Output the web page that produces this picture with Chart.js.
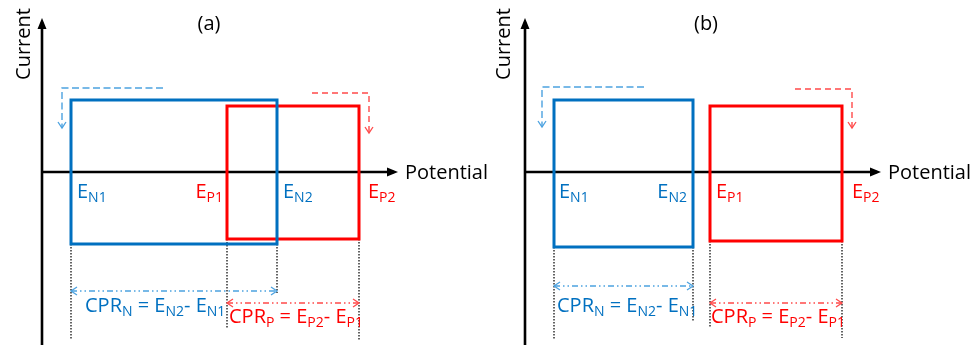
<!DOCTYPE html>
<html>
<head>
<meta charset="utf-8">
<script src="https://cdn.jsdelivr.net/npm/chart.js@4/dist/chart.umd.min.js"></script>
<style>
  html, body { margin: 0; padding: 0; background: #ffffff; }
  #wrap { position: relative; width: 979px; height: 348px; overflow: hidden; }
  #wrap canvas { position: absolute; top: 0; }
</style>
</head>
<body>
<div id="wrap">
  <canvas id="panelA" width="489" height="348" style="left:0px"></canvas>
  <canvas id="panelB" width="490" height="348" style="left:489px"></canvas>
</div>
<script>
// Two schematic voltammograms: (a) overlapping and (b) separated potential windows.
const panels = ['(a)', '(b)'];

// Electrode switching potentials (arbitrary potential units)
const E_N1 = [2.9, 2.9];
const E_N2 = [23.5, 16.8];
const E_P1 = [18.5, 18.5];
const E_P2 = [31.7, 31.7];

// Current plateaus of the negative (N) and positive (P) electrode boxes
const I_N_top = [7.2, 7.2];
const I_N_bot = [-7.2, -7.5];
const I_P_top = [6.6, 6.6];
const I_P_bot = [-6.7, -6.9];

// Sweep-direction markers
const sweepN_start = [12.1, 11.9];
const sweepN_corner = [2.0, 1.7];
const sweepN_level = [8.4, 8.5];
const sweepN_tip = [4.4, 4.5];
const sweepP_start = [27.0, 27.0];
const sweepP_corner = [32.7, 32.7];
const sweepP_level = [7.9, 8.3];
const sweepP_tip = [3.9, 4.4];

// Potential-range brackets and their dotted guides
const cprN_level = [-11.9, -11.4];
const cprP_level = [-13.1, -13.1];
const guideN1_end = [-16.8, -16.8];
const guideN2_end = [-12.1, -15.0];
const guideP1_end = [-15.6, -15.6];
const guideP2_end = [-16.8, -16.6];

// Axis extents
const potentialAxisEnd = 35.2;
const currentAxisTop = 15.0;
const currentAxisBottom = -17.3;

// Axis and formula labels
const axisTitleX = 'Potential';
const axisTitleY = 'Current';
const labelN1 = [['E', 0], ['N1', 1]];
const labelN2 = [['E', 0], ['N2', 1]];
const labelP1 = [['E', 0], ['P1', 1]];
const labelP2 = [['E', 0], ['P2', 1]];
const formulaN = [['CPR', 0], ['N', 1], [' = E', 0], ['N2', 1], ['- E', 0], ['N1', 1]];
const formulaP = [['CPR', 0], ['P', 1], [' = E', 0], ['P2', 1], ['- E', 0], ['P1', 1]];

const FONT = '"Open Sans", "DejaVu Sans", sans-serif';
const BLUE = '#0070C0';
const RED = '#FF0000';
const BLUE_LIGHT = '#4CA2E0';
const RED_LIGHT = '#FF4A4A';

// Per-panel text placement (pixels relative to the drawn axes / lines)
const layout = [
  { titleDx: 167, currentDx: -12, n1: ['left', 6], n2: ['left', 6], p1: ['right', -4], p2: ['left', 9], cprN: 14, cprP: 2 },
  { titleDx: 181, currentDx: -15, n1: ['left', 5], n2: ['right', -6], p1: ['left', 6], p2: ['left', 10], cprN: 3, cprP: 1 }
];

function box(x1, x2, yTop, yBot) {
  const mid = (x1 + x2) / 2;
  return [
    { x: mid, y: yTop }, { x: x2, y: yTop }, { x: x2, y: yBot },
    { x: x1, y: yBot }, { x: x1, y: yTop }, { x: mid, y: yTop }
  ];
}

function lineSet(data, color, width, dash, order, arrows) {
  return {
    data: data,
    showLine: true,
    borderColor: color,
    backgroundColor: color,
    borderWidth: width,
    borderDash: dash,
    borderCapStyle: 'butt',
    borderJoinStyle: 'miter',
    pointRadius: 0,
    pointHoverRadius: 0,
    tension: 0,
    fill: false,
    clip: false,
    order: order,
    arrows: arrows || null
  };
}

const arrowPlugin = {
  id: 'arrowHeads',
  afterDatasetsDraw(chart) {
    const ctx = chart.ctx;
    chart.data.datasets.forEach((ds, i) => {
      if (!ds.arrows) return;
      const pts = chart.getDatasetMeta(i).data;
      if (pts.length < 2) return;
      const ends = [];
      if (ds.arrows.end) ends.push([pts[pts.length - 1], pts[pts.length - 2], ds.arrows.end]);
      if (ds.arrows.start) ends.push([pts[0], pts[1], ds.arrows.start]);
      ends.forEach(([tip, prev, kind]) => {
        const ang = Math.atan2(tip.y - prev.y, tip.x - prev.x);
        ctx.save();
        ctx.translate(tip.x, tip.y);
        ctx.rotate(ang);
        ctx.strokeStyle = ds.borderColor;
        ctx.fillStyle = ds.borderColor;
        if (kind === 'filled') {
          ctx.beginPath();
          ctx.moveTo(4, 0);
          ctx.lineTo(-7, -4.5);
          ctx.lineTo(-7, 4.5);
          ctx.closePath();
          ctx.fill();
        } else {
          ctx.lineWidth = 1.3;
          ctx.setLineDash([]);
          ctx.beginPath();
          ctx.moveTo(-6, -4);
          ctx.lineTo(0, 0);
          ctx.lineTo(-6, 4);
          ctx.stroke();
        }
        ctx.restore();
      });
    });
  }
};

function drawRich(ctx, parts, x, y, align, color) {
  const sizes = parts.map(p => (p[1] ? 14 : 20));
  const widths = parts.map((p, k) => {
    ctx.font = sizes[k] + 'px ' + FONT;
    return ctx.measureText(p[0]).width;
  });
  const total = widths.reduce((a, b) => a + b, 0);
  let cx = align === 'right' ? x - total : (align === 'center' ? x - total / 2 : x);
  ctx.fillStyle = color;
  ctx.textAlign = 'left';
  ctx.textBaseline = 'alphabetic';
  parts.forEach((p, k) => {
    ctx.font = sizes[k] + 'px ' + FONT;
    ctx.fillText(p[0], cx, y + (p[1] ? 4 : 0));
    cx += widths[k];
  });
}

function textPlugin(p) {
  return {
    id: 'schematicText',
    afterDatasetsDraw(chart) {
      const ctx = chart.ctx;
      const X = v => chart.scales.x.getPixelForValue(v);
      const Y = v => chart.scales.y.getPixelForValue(v);
      const ax = X(0), ay = Y(0);
      const L = layout[p];
      ctx.save();
      // panel title
      ctx.font = '20px ' + FONT;
      ctx.fillStyle = '#000';
      ctx.textAlign = 'center';
      ctx.textBaseline = 'middle';
      ctx.fillText(panels[p], ax + L.titleDx, 24);
      // axis titles
      ctx.textAlign = 'left';
      ctx.textBaseline = 'alphabetic';
      ctx.fillText(axisTitleX, X(potentialAxisEnd) + 11, ay + 7);
      ctx.save();
      ctx.translate(ax + L.currentDx, ay - 128);
      ctx.rotate(-Math.PI / 2);
      ctx.textAlign = 'center';
      ctx.fillText(axisTitleY, 0, 0);
      ctx.restore();
      // switching potential labels
      const base = ay + 26;
      drawRich(ctx, labelN1, X(E_N1[p]) + L.n1[1], base, L.n1[0], BLUE);
      drawRich(ctx, labelN2, X(E_N2[p]) + L.n2[1], base, L.n2[0], BLUE);
      drawRich(ctx, labelP1, X(E_P1[p]) + L.p1[1], base, L.p1[0], RED);
      drawRich(ctx, labelP2, X(E_P2[p]) + L.p2[1], base, L.p2[0], RED);
      // potential range formulas
      drawRich(ctx, formulaN, X(E_N1[p]) + L.cprN, ay + 140, 'left', BLUE);
      drawRich(ctx, formulaP, X(E_P1[p]) + L.cprP, ay + 151, 'left', RED);
      ctx.restore();
    }
  };
}

function buildPanel(canvasId, p, padLeft, padRight) {
  const datasets = [
    // axes
    lineSet([{ x: 0, y: 0 }, { x: potentialAxisEnd, y: 0 }], '#000000', 2.6, [], 6, { end: 'filled' }),
    lineSet([{ x: 0, y: currentAxisBottom }, { x: 0, y: currentAxisTop }], '#000000', 2.6, [], 6, { end: 'filled' }),
    // dotted guides
    lineSet([{ x: E_N1[p], y: I_N_bot[p] }, { x: E_N1[p], y: guideN1_end[p] }], '#222222', 1.4, [1.5, 1.5], 5),
    lineSet([{ x: E_N2[p], y: I_N_bot[p] }, { x: E_N2[p], y: guideN2_end[p] }], '#222222', 1.4, [1.5, 1.5], 5),
    lineSet([{ x: E_P1[p], y: I_P_bot[p] }, { x: E_P1[p], y: guideP1_end[p] }], '#222222', 1.4, [1.5, 1.5], 5),
    lineSet([{ x: E_P2[p], y: I_P_bot[p] }, { x: E_P2[p], y: guideP2_end[p] }], '#222222', 1.4, [1.5, 1.5], 5),
    // voltammogram boxes
    lineSet(box(E_P1[p], E_P2[p], I_P_top[p], I_P_bot[p]), RED, 3, [], 3),
    lineSet(box(E_N1[p], E_N2[p], I_N_top[p], I_N_bot[p]), BLUE, 3, [], 2),
    // sweep direction markers
    lineSet([{ x: sweepN_start[p], y: sweepN_level[p] }, { x: sweepN_corner[p], y: sweepN_level[p] }, { x: sweepN_corner[p], y: sweepN_tip[p] }],
      BLUE_LIGHT, 1.4, [7, 3.5], 1, { end: 'open' }),
    lineSet([{ x: sweepP_start[p], y: sweepP_level[p] }, { x: sweepP_corner[p], y: sweepP_level[p] }, { x: sweepP_corner[p], y: sweepP_tip[p] }],
      RED_LIGHT, 1.4, [6, 4], 1, { end: 'open' }),
    // potential range brackets
    lineSet([{ x: E_N1[p], y: cprN_level[p] }, { x: E_N2[p], y: cprN_level[p] }], BLUE_LIGHT, 1.4, [6, 3, 1.5, 3, 1.5, 3], 1, { start: 'open', end: 'open' }),
    lineSet([{ x: E_P1[p], y: cprP_level[p] }, { x: E_P2[p], y: cprP_level[p] }], RED_LIGHT, 1.4, [6, 3, 1.5, 3, 1.5, 3], 1, { start: 'open', end: 'open' })
  ];
  return new Chart(document.getElementById(canvasId), {
    type: 'scatter',
    data: { datasets: datasets },
    options: {
      responsive: false,
      animation: false,
      devicePixelRatio: 1,
      layout: { padding: { left: padLeft, right: padRight, top: 0, bottom: 0 } },
      scales: {
        x: { type: 'linear', min: 0, max: 40, display: false },
        y: { type: 'linear', min: -17.6, max: 17.2, display: false }
      },
      plugins: { legend: { display: false }, tooltip: { enabled: false } },
      events: []
    },
    plugins: [arrowPlugin, textPlugin(p)]
  });
}

buildPanel('panelA', 0, 42, 47);
buildPanel('panelB', 1, 36, 54);
</script>
</body>
</html>
